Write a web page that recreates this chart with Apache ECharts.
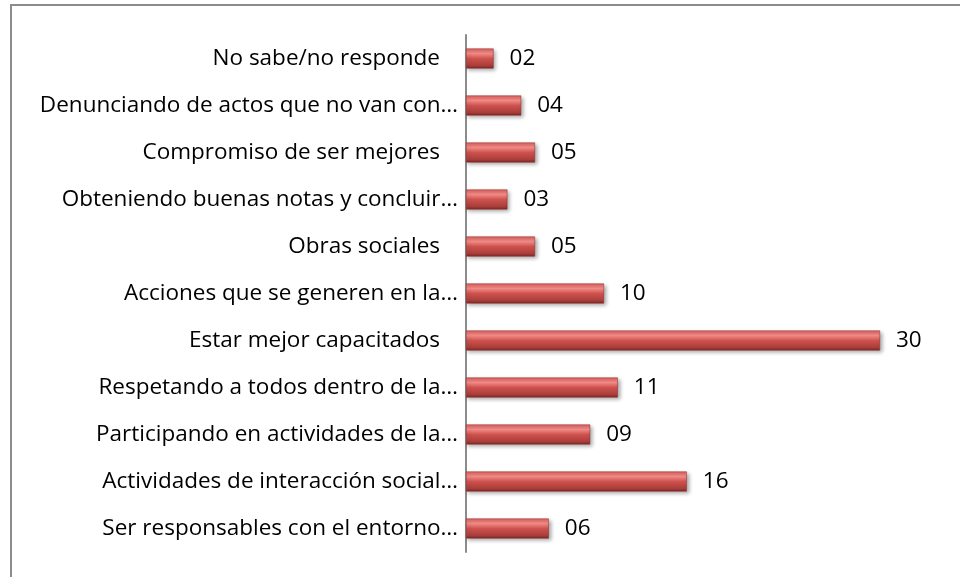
<!DOCTYPE html>
<html>
<head>
<meta charset="utf-8">
<script src="https://cdn.jsdelivr.net/npm/echarts@6/dist/echarts.min.js"></script>
<style>
  html, body { margin: 0; padding: 0; background: #fff; }
  #main { width: 960px; height: 577px; }
</style>
</head>
<body>
<div id="main"></div>
<script>
// categorias de arriba hacia abajo
var categories = [
  'No sabe/no responde',
  'Denunciando de actos que no van con…',
  'Compromiso de ser mejores',
  'Obteniendo buenas notas y concluir…',
  'Obras sociales',
  'Acciones que se generen en la…',
  'Estar mejor capacitados',
  'Respetando a todos dentro de la…',
  'Participando en actividades de la…',
  'Actividades de interacción social…',
  'Ser responsables con el entorno…'
];
var values = [2, 4, 5, 3, 5, 10, 30, 11, 9, 16, 6];

var myChart = echarts.init(document.getElementById('main'));

var barColor = new echarts.graphic.LinearGradient(0, 0, 0, 1, [
  { offset: 0, color: '#dc5f5b' },
  { offset: 0.25, color: '#f28c88' },
  { offset: 0.5, color: '#cf524e' },
  { offset: 0.85, color: '#a93e3b' },
  { offset: 1, color: '#7e2624' }
]);

var option = {
  animation: false,
  textStyle: { fontFamily: 'Open Sans' },
  graphic: [{
    type: 'rect',
    shape: { x: 11, y: 5, width: 1200, height: 1200 },
    style: { fill: 'none', stroke: '#8c8c8c', lineWidth: 2 },
    silent: true
  }],
  grid: { left: 466, top: 35, width: 414, height: 517 },
  xAxis: {
    type: 'value',
    min: 0,
    max: 30,
    show: false
  },
  yAxis: {
    type: 'category',
    inverse: true,
    data: categories,
    axisLine: { show: true, lineStyle: { color: '#8c8c8c', width: 2 } },
    axisTick: { show: false },
    axisLabel: {
      color: '#000',
      fontSize: 22.5,
      margin: 8,
      // las etiquetas completas quedan un poco más a la izquierda
      formatter: function (v) {
        return v.slice(-1) === '…' ? v : '{p|' + v + '}';
      },
      rich: {
        p: {
          color: '#000',
          fontSize: 22.5,
          fontFamily: 'Open Sans',
          padding: [0, 18, 0, 0]
        }
      }
    }
  },
  series: [{
    type: 'bar',
    data: values,
    barWidth: 20,
    itemStyle: {
      color: barColor,
      borderColor: '#8e2e2b',
      borderWidth: 0.5,
      shadowColor: 'rgba(0,0,0,0.35)',
      shadowBlur: 4,
      shadowOffsetX: 2,
      shadowOffsetY: 2
    },
    label: {
      show: true,
      position: 'right',
      distance: 16,
      color: '#000',
      fontSize: 22.5,
      formatter: function (p) {
        return (p.value < 10 ? '0' : '') + p.value;
      }
    }
  }]
};

myChart.setOption(option);
</script>
</body>
</html>
